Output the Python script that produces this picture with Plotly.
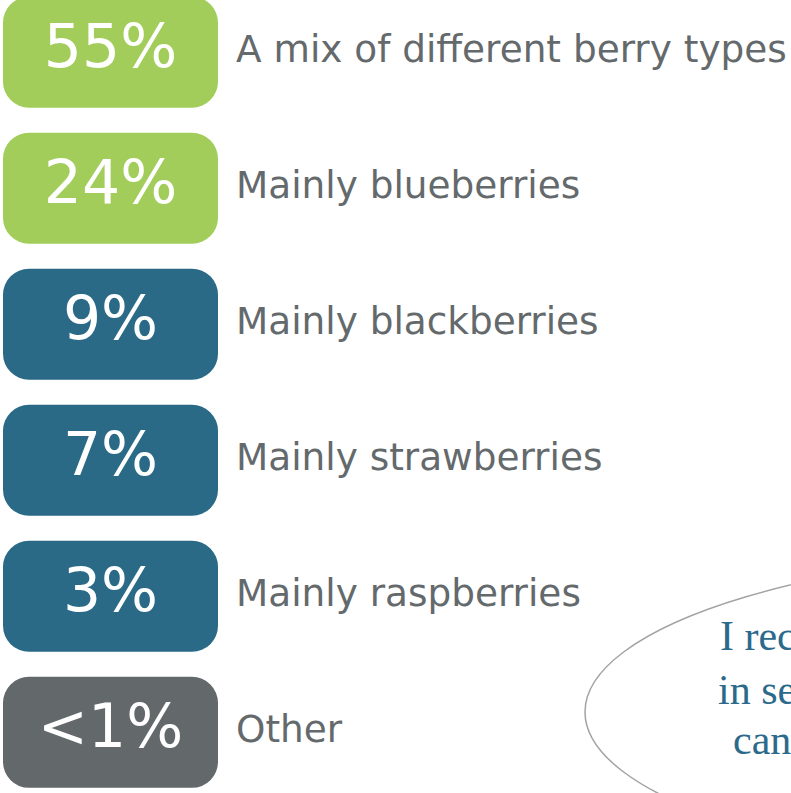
import plotly.graph_objects as go

categories = ["A mix of different berry types", "Mainly blueberries", "Mainly blackberries",
              "Mainly strawberries", "Mainly raspberries", "Other"]
pct_labels = ["55%", "24%", "9%", "7%", "3%", "<1%"]
groups = ["mix", "blue", "teal", "teal", "teal", "other"]

color_map = {"mix": "#A2CD5A", "blue": "#A2CD5A", "teal": "#2B6A87", "other": "#63686B"}
colors = [color_map[g] for g in groups]

box_left = 3
box_width = 215
n = len(categories)

fig = go.Figure()
fig.add_trace(go.Bar(
    y=categories, x=[box_width] * n, base=[box_left] * n,
    orientation="h", width=0.816,
    marker=dict(color=colors, cornerradius=26, line=dict(width=0)),
    hoverinfo="skip", showlegend=False))

fig.add_trace(go.Scatter(
    y=categories, x=[box_left + box_width / 2] * n, mode="text", text=pct_labels,
    textposition="middle center",
    textfont=dict(family="DejaVu Sans", size=60, color="white"),
    hoverinfo="skip", showlegend=False))

fig.add_trace(go.Scatter(
    y=categories, x=[236] * n, mode="text", text=categories,
    textposition="middle right",
    textfont=dict(family="DejaVu Sans", size=37.4, color="#64696C"),
    hoverinfo="skip", showlegend=False))

W, H = 791, 793
fig.add_shape(type="circle", xref="paper", yref="paper",
              x0=585 / W, x1=1685 / W, y0=1 - 875 / H, y1=1 - 549 / H,
              line=dict(color="#A3A3A6", width=1.5), fillcolor="rgba(0,0,0,0)")

quote_lines = ["I recommend", "in season", "can be"]
quote_x = [718, 716, 731]
quote_y = [636, 690, 740]
for t, qx, qy in zip(quote_lines, quote_x, quote_y):
    fig.add_annotation(text=t, xref="paper", yref="paper", x=qx / W, y=1 - qy / H,
                       xanchor="left", yanchor="middle", showarrow=False,
                       font=dict(family="Liberation Serif", size=42, color="#2B6A8A"))

fig.update_layout(
    width=W, height=H, margin=dict(l=0, r=0, t=0, b=0),
    paper_bgcolor="white", plot_bgcolor="white", barmode="overlay",
    xaxis=dict(range=[0, W], visible=False, fixedrange=True),
    yaxis=dict(type="category", range=[5.4458, -0.3834], visible=False, fixedrange=True),
)
fig.write_html("out.html", config={"displayModeBar": False},
               post_script="document.body.style.margin='0';document.body.style.overflow='hidden';")
